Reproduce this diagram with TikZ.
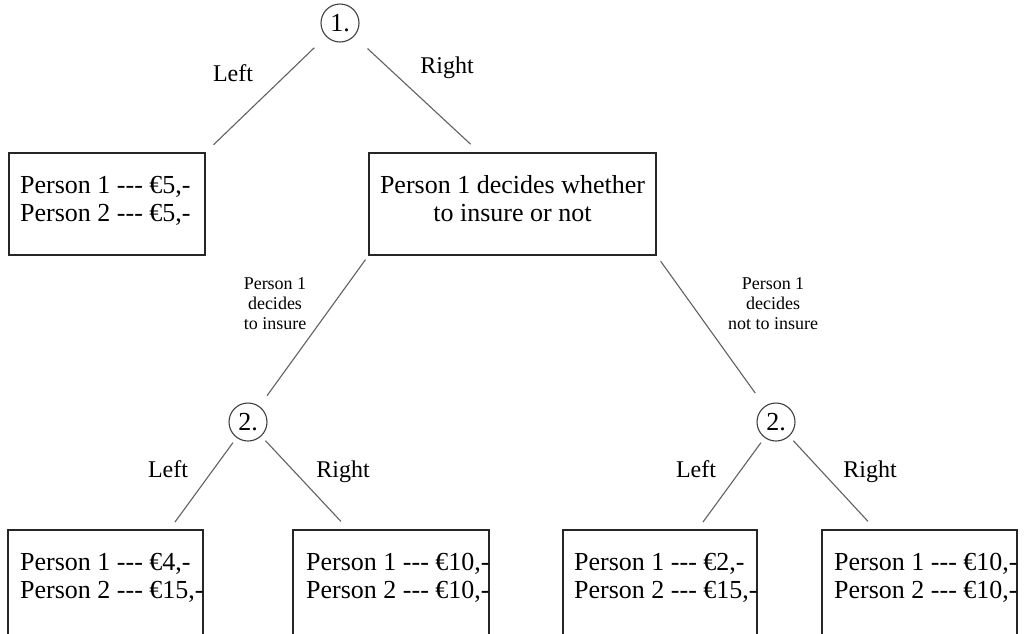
\documentclass[tikz,border=0pt]{standalone}
\usepackage{fontspec}
\setmainfont{Liberation Serif}[Ligatures=TeXOff]
\usetikzlibrary{calc}
\begin{document}
\begin{tikzpicture}[x=1pt,y=-1pt,
  box/.style={draw=black!85, line width=1.2pt, minimum width=#1, minimum height=102pt, inner sep=0pt},
  lowbox/.style={box=#1, minimum height=106pt},
  conn/.style={draw=black!62, line width=1.1pt},
  dec/.style={circle, draw=black!75, line width=1.1pt, minimum size=38pt, inner sep=0pt, font=\fontsize{26}{28}\selectfont},
  pay/.style={anchor=base west, align=left, font=\fontsize{26}{28}\selectfont, inner sep=0pt},
  paymid/.style={anchor=base, align=center, font=\fontsize{26}{28}\selectfont, inner sep=0pt},
  lab/.style={anchor=base, font=\fontsize{24}{26}\selectfont, inner sep=0pt},
  small/.style={anchor=base, align=center, font=\fontsize{18}{20}\selectfont, inner sep=0pt}
]
\useasboundingbox (0,0) rectangle (1026,633);
\fill[white] (0,0) rectangle (1026,633);

% decision nodes
\node[dec] (n1) at (340,23) {1.};
\node[dec] (n2L) at (248,422) {2.};
\node[dec] (n2R) at (776,422) {2.};

% boxes
\node[box=196pt] (A) at (107,204) {};
\node[box=287pt] (B) at (512.5,204) {};
\node[lowbox=195pt] (C) at (105.5,583) {};
\node[lowbox=196pt] (D) at (391,583) {};
\node[lowbox=194pt] (E) at (660,583) {};
\node[lowbox=195pt] (F) at (919.5,583) {};

% box texts (base = baseline of last line)
\node[pay] (tA) at (20,221) {Person 1 --- €5,-\\Person 2 --- €5,-};
\node[paymid] (tB) at (512.5,221) {Person 1 decides whether\\to insure or not};
\node[pay] (tC) at (20,598) {Person 1 --- €4,-\\Person 2 --- €15,-};
\node[pay] (tD) at (306,598) {Person 1 --- €10,-\\Person 2 --- €10,-};
\node[pay] (tE) at (574,598) {Person 1 --- €2,-\\Person 2 --- €15,-};
\node[pay] (tF) at (834,598) {Person 1 --- €10,-\\Person 2 --- €10,-};

% connectors
\draw[conn, shorten <=16pt, shorten >=11pt] (n1) -- (A.north east);
\draw[conn, shorten <=18pt, shorten >=12pt] (n1) -- ($(B.north west)+(111,0)$);
\draw[conn, shorten <=5pt, shorten >=13pt] (B.south west) -- (n2L);
\draw[conn, shorten <=7pt, shorten >=16pt] (B.south east) -- (n2R);
\draw[conn, shorten <=6pt, shorten >=9pt] (n2L) -- ($(C.north east)+(-34,0)$);
\draw[conn, shorten <=6pt, shorten >=11pt] (n2L) -- ($(D.north west)+(56,0)$);
\draw[conn, shorten <=6pt, shorten >=9pt] (n2R) -- ($(E.north east)+(-60,0)$);
\draw[conn, shorten <=6pt, shorten >=11pt] (n2R) -- ($(F.north west)+(54,0)$);

% labels
\node[lab] (l1) at (233,81) {Left};
\node[lab] (r1) at (447,73) {Right};
\node[lab] (l2) at (168,477) {Left};
\node[lab] (r2) at (343,477) {Right};
\node[lab] (l3) at (696,477) {Left};
\node[lab] (r3) at (870,477) {Right};
\node[small] (s1) at (275,329) {Person 1\\decides\\to insure};
\node[small] (s2) at (773,329) {Person 1\\decides\\not to insure};
\end{tikzpicture}
\end{document}
